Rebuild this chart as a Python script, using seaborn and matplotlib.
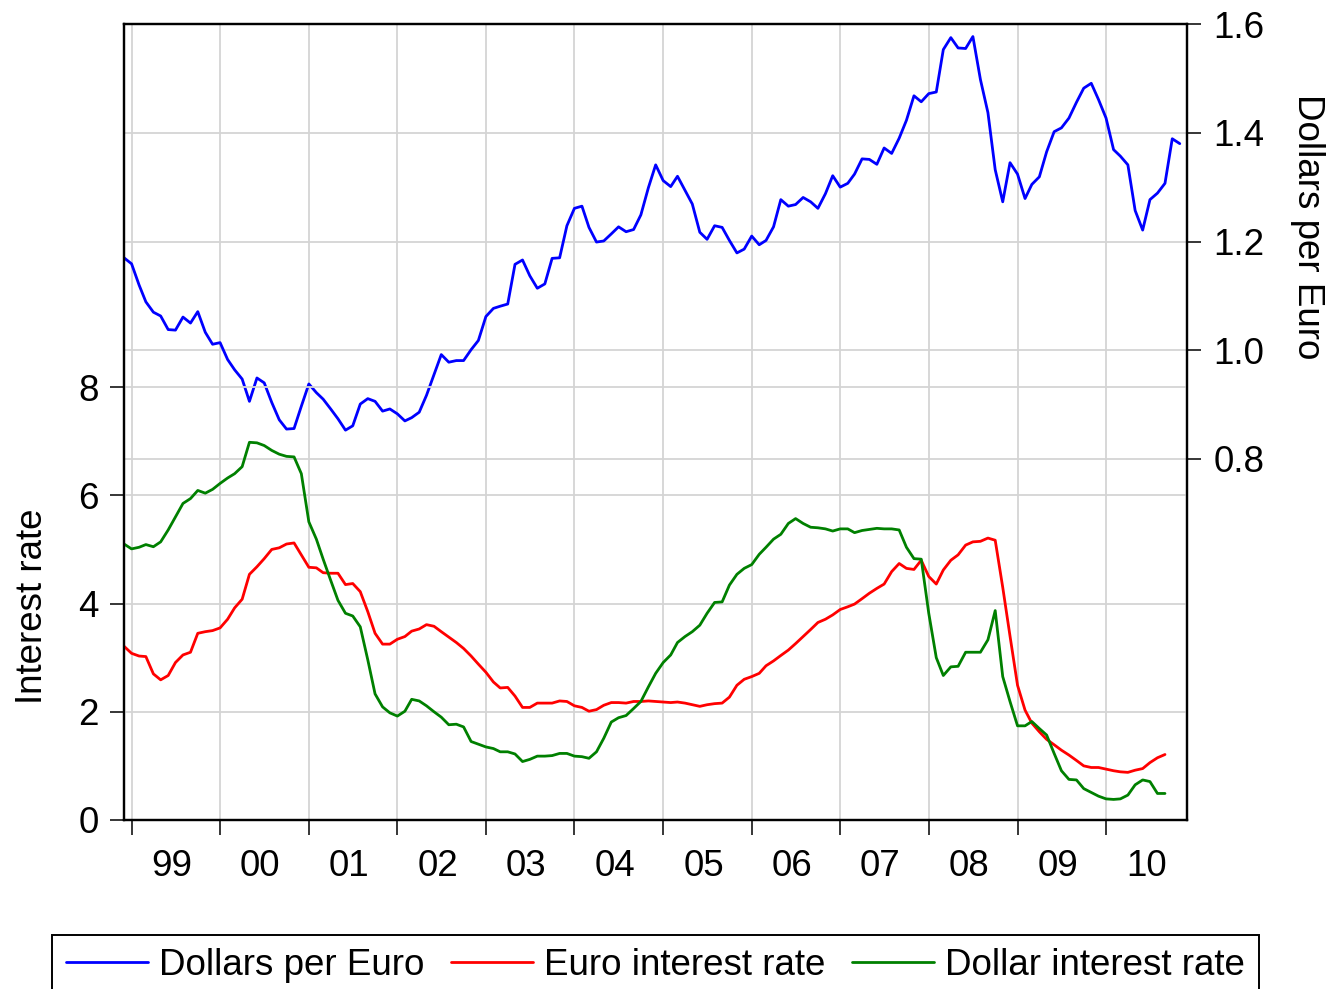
import matplotlib
matplotlib.use("Agg")
import matplotlib.pyplot as plt
import pandas as pd
import seaborn as sns

# monthly observations, first one is Dec 1998
months = pd.date_range("1998-12-01", periods=144, freq="MS")

dollars_per_euro = [
    1.170,
    1.159, 1.120, 1.089, 1.070, 1.063, 1.038, 1.037, 1.061, 1.050, 1.071, 1.033, 1.011,
    1.014, 0.983, 0.964, 0.947, 0.906, 0.949, 0.940, 0.904, 0.872, 0.855, 0.856, 0.897,
    0.938, 0.922, 0.910, 0.892, 0.874, 0.853, 0.861, 0.901, 0.911, 0.906, 0.888, 0.892,
    0.883, 0.870, 0.876, 0.886, 0.917, 0.955, 0.992, 0.978, 0.981, 0.981, 1.001, 1.018,
    1.062, 1.077, 1.081, 1.085, 1.158, 1.166, 1.137, 1.114, 1.122, 1.169, 1.170, 1.229,
    1.261, 1.265, 1.226, 1.199, 1.201, 1.214, 1.227, 1.218, 1.222, 1.249, 1.299, 1.341,
    1.312, 1.301, 1.320, 1.294, 1.269, 1.217, 1.204, 1.229, 1.226, 1.202, 1.179, 1.186,
    1.210, 1.194, 1.202, 1.227, 1.277, 1.265, 1.268, 1.281, 1.273, 1.261, 1.288, 1.321,
    1.300, 1.307, 1.324, 1.352, 1.351, 1.342, 1.372, 1.362, 1.390, 1.423, 1.468, 1.457,
    1.472, 1.475, 1.553, 1.575, 1.556, 1.555, 1.577, 1.498, 1.437, 1.332, 1.273, 1.345,
    1.324, 1.279, 1.305, 1.319, 1.365, 1.402, 1.409, 1.427, 1.456, 1.482, 1.491, 1.461,
    1.427, 1.369, 1.357, 1.341, 1.257, 1.221, 1.277, 1.289, 1.307, 1.389, 1.380,
]

# interest rates stop in Sep 2010
euro_rate = [
    3.21,
    3.08, 3.03, 3.02, 2.70, 2.59, 2.67, 2.91, 3.05, 3.10, 3.45, 3.48, 3.50,
    3.55, 3.71, 3.92, 4.08, 4.54, 4.68, 4.83, 5.00, 5.03, 5.10, 5.12, 4.90,
    4.67, 4.66, 4.57, 4.56, 4.56, 4.35, 4.37, 4.22, 3.85, 3.45, 3.25, 3.25,
    3.34, 3.39, 3.49, 3.53, 3.61, 3.58, 3.48, 3.38, 3.28, 3.17, 3.03, 2.88,
    2.73, 2.55, 2.44, 2.45, 2.29, 2.08, 2.08, 2.16, 2.16, 2.16, 2.20, 2.19,
    2.11, 2.08, 2.01, 2.04, 2.12, 2.17, 2.17, 2.16, 2.19, 2.19, 2.20, 2.19,
    2.18, 2.17, 2.18, 2.16, 2.13, 2.10, 2.13, 2.15, 2.16, 2.27, 2.49, 2.60,
    2.65, 2.71, 2.85, 2.94, 3.04, 3.14, 3.26, 3.39, 3.52, 3.65, 3.71, 3.79,
    3.89, 3.94, 3.99, 4.09, 4.19, 4.28, 4.36, 4.59, 4.74, 4.65, 4.63, 4.80,
    4.50, 4.36, 4.62, 4.80, 4.90, 5.08, 5.14, 5.15, 5.21, 5.17, 4.30, 3.40,
    2.49, 2.03, 1.79, 1.63, 1.49, 1.39, 1.29, 1.20, 1.10, 1.00, 0.97, 0.97,
    0.94, 0.91, 0.89, 0.88, 0.92, 0.95, 1.06, 1.15, 1.21,
]

dollar_rate = [
    5.10,
    5.01, 5.04, 5.09, 5.05, 5.14, 5.36, 5.60, 5.85, 5.94, 6.09, 6.04, 6.11,
    6.22, 6.32, 6.40, 6.53, 6.98, 6.97, 6.92, 6.83, 6.76, 6.72, 6.71, 6.40,
    5.51, 5.19, 4.82, 4.43, 4.06, 3.82, 3.77, 3.57, 2.96, 2.33, 2.09, 1.98,
    1.92, 2.01, 2.23, 2.20, 2.11, 2.00, 1.90, 1.76, 1.77, 1.72, 1.45, 1.40,
    1.35, 1.32, 1.26, 1.26, 1.22, 1.08, 1.12, 1.18, 1.18, 1.19, 1.23, 1.23,
    1.18, 1.17, 1.14, 1.26, 1.51, 1.81, 1.89, 1.93, 2.06, 2.19, 2.46, 2.71,
    2.91, 3.05, 3.28, 3.39, 3.48, 3.60, 3.82, 4.02, 4.03, 4.34, 4.54, 4.65,
    4.72, 4.91, 5.04, 5.19, 5.28, 5.48, 5.57, 5.48, 5.41, 5.40, 5.38, 5.34,
    5.38, 5.38, 5.31, 5.35, 5.37, 5.39, 5.38, 5.38, 5.36, 5.04, 4.83, 4.82,
    3.82, 3.00, 2.67, 2.83, 2.84, 3.10, 3.10, 3.10, 3.33, 3.87, 2.65, 2.19,
    1.74, 1.74, 1.82, 1.69, 1.57, 1.23, 0.91, 0.75, 0.74, 0.58, 0.51, 0.44,
    0.39, 0.38, 0.39, 0.46, 0.65, 0.74, 0.71, 0.49, 0.49,
]

year_starts = pd.date_range("1999-01-01", "2010-01-01", freq="YS")
year_labels = ["99", "00", "01", "02", "03", "04", "05", "06", "07", "08", "09", "10"]

fx = pd.DataFrame({"date": months, "usd_eur": dollars_per_euro})
rates = pd.DataFrame({
    "date": months[:len(euro_rate)],
    "euro": euro_rate,
    "dollar": dollar_rate,
})

sns.set_theme(style="white")
plt.rcParams["font.family"] = ["Liberation Sans", "DejaVu Sans"]
for key in ("text.color", "axes.labelcolor", "xtick.color", "ytick.color"):
    plt.rcParams[key] = "black"

FS = 26.5
GRID = dict(color="#d4d4d4", linewidth=1.3)

fig = plt.figure(figsize=(13.41, 9.89), dpi=100)
ax = fig.add_axes([0.0925, 0.1709, 0.7927, 0.8048])
ax2 = ax.twinx()
# rates on top, exchange rate (and most of the grid) underneath
ax.set_zorder(ax2.get_zorder() + 1)
ax.patch.set_visible(False)
ax2.patch.set_visible(True)
ax2.patch.set_facecolor("white")

sns.lineplot(data=fx, x="date", y="usd_eur", ax=ax2, color="#0000ff",
             linewidth=2, label="Dollars per Euro", legend=False)
sns.lineplot(data=rates, x="date", y="euro", ax=ax, color="#ff0000",
             linewidth=2, label="Euro interest rate", legend=False)
sns.lineplot(data=rates, x="date", y="dollar", ax=ax, color="#008000",
             linewidth=2, label="Dollar interest rate", legend=False)

ax.set_xlim(pd.Timestamp("1998-12-01"), pd.Timestamp("2010-12-01"))
ax.set_ylim(0, 14.71)
ax2.set_ylim(0.136, 1.6)

# x axis: ticks at year starts, labels mid-year
ax.set_xticks(year_starts)
ax.set_xticklabels([])
ax.set_xticks(year_starts + pd.Timedelta(days=166), minor=True)
ax.set_xticklabels(year_labels, minor=True, fontsize=FS)
ax.tick_params(axis="x", which="major", bottom=True, length=11, width=1.1,
               color="black", direction="out")
ax.tick_params(axis="x", which="minor", bottom=True, length=0, pad=21)

ax.set_yticks([0, 2, 4, 6, 8])
ax.set_yticklabels(["0", "2", "4", "6", "8"], fontsize=FS)
ax.tick_params(axis="y", left=True, length=10, width=1.1, color="black",
               pad=8, direction="out")

ax2.set_yticks([0.8, 1.0, 1.2, 1.4, 1.6])
ax2.set_yticklabels(["0.8", "1.0", "1.2", "1.4", "1.6"], fontsize=FS)
ax2.tick_params(axis="y", right=True, length=10, width=1.1, color="black",
                pad=9, direction="out")

# grid: x and right-axis lines below the blue line, left-axis lines on top layer
ax2.xaxis.set_visible(True)
ax2.tick_params(axis="x", which="both", bottom=False, top=False,
                labelbottom=False, labeltop=False)
ax2.set_axisbelow(True)
ax2.grid(axis="x", which="major", **GRID)
ax2.grid(axis="y", which="major", **GRID)
ax.set_axisbelow(True)
ax.grid(axis="y", which="major", **GRID)
ax.grid(axis="x", visible=False)
ax.set_xlabel("")
ax2.set_xlabel("")

ax.set_ylabel("Interest rate", fontsize=FS, va="baseline")
ax.yaxis.set_label_coords(-0.0771, 0.269)
ax2.set_ylabel("Dollars per Euro", fontsize=FS, rotation=270, va="baseline")
ax2.yaxis.set_label_coords(1.1044, 0.746)

for a in (ax, ax2):
    for side in a.spines.values():
        side.set_color("black")
        side.set_linewidth(1.6)

handles = ax2.get_lines()[:1] + ax.get_lines()[:2]
labels = [h.get_label() for h in handles]
leg = fig.legend(handles, labels, loc="upper center",
                 bbox_to_anchor=(0.4888, 0.0546), bbox_transform=fig.transFigure,
                 ncol=3, fontsize=FS, frameon=True, fancybox=False,
                 edgecolor="black", framealpha=1, handlelength=2.23,
                 handletextpad=0.3, columnspacing=0.73, borderpad=0.36,
                 borderaxespad=0)
leg.get_frame().set_linewidth(1.4)

fig.savefig("out.png", dpi=100)
